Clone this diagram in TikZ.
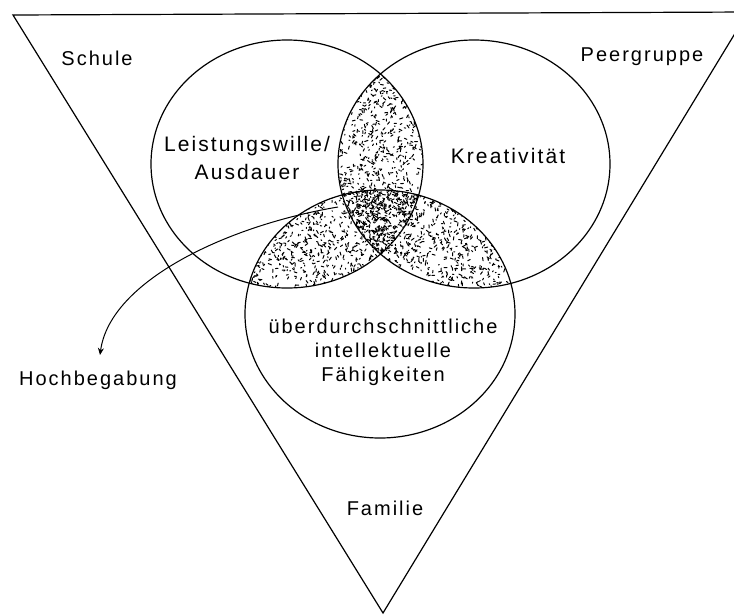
\documentclass[tikz,border=0pt]{standalone}
\usepackage{fontspec}
\usetikzlibrary{arrows.meta}
\newfontfamily\labfont{Liberation Sans}[LetterSpace=10]
\newcommand\mystipple[5]{%
  \foreach \i in {1,...,#5}{%
    \pgfmathsetmacro\px{#1+#3*rnd}%
    \pgfmathsetmacro\py{#2+#4*rnd}%
    \pgfmathsetmacro\pa{360*rnd}%
    \pgfmathsetmacro\pl{0.8+2.6*rnd}%
    \draw[speck] (\px,\py) -- ++(\pa:\pl);
  }}
\begin{document}
\begin{tikzpicture}[x=1pt,y=-1pt,
  outline/.style={line width=1.2pt},
  speck/.style={line width=1pt, line cap=round},
  lab/.style={font=\labfont\fontsize{20}{24}\selectfont, inner sep=0pt, align=center},
  inlab/.style={font=\labfont\fontsize{21}{28}\selectfont, inner sep=0pt, align=center},
  circ/.style={x radius=136pt, y radius=124pt},
  bcirc/.style={x radius=135pt, y radius=124pt}]

\path[fill=white,use as bounding box] (0,0) rectangle (734,614);

\coordinate (cL) at (287,164);
\coordinate (cR) at (474,164);
\coordinate (cB) at (380,314);
\coordinate (tl) at (13,15);
\coordinate (tr) at (748,12);
\coordinate (apex) at (383,613);

\pgfmathsetseed{7}
% left & right
\begin{scope}
  \clip (cL) ellipse [circ];
  \clip (cR) ellipse [circ];
  \mystipple{340}{70}{82}{188}{800}
\end{scope}
% left & bottom
\begin{scope}
  \clip (cL) ellipse [circ];
  \clip (cB) ellipse [bcirc];
  \mystipple{245}{186}{140}{106}{800}
\end{scope}
% right & bottom
\begin{scope}
  \clip (cR) ellipse [circ];
  \clip (cB) ellipse [bcirc];
  \mystipple{376}{186}{140}{106}{800}
\end{scope}
% all three: denser
\begin{scope}
  \clip (cL) ellipse [circ];
  \clip (cR) ellipse [circ];
  \clip (cB) ellipse [bcirc];
  \mystipple{340}{186}{82}{70}{250}
\end{scope}

\draw[outline, line join=miter] (tl) -- (tr) -- (apex) -- cycle;
\draw[outline] (cL) ellipse [circ];
\draw[outline] (cR) ellipse [circ];
\draw[outline] (cB) ellipse [bcirc];

\node[lab] (schule) at (97,58) {Schule};
\node[lab] (peer) at (642,57) {Peergruppe};
\node[inlab] (leist) at (247,158) {Leistungswille/\\Ausdauer};
\node[inlab] (krea) at (508,156) {Kreativität};
\node[lab] (ueber) at (383,352) {überdurchschnittliche\\intellektuelle\\Fähigkeiten};
\node[lab] (familie) at (385,508) {Familie};
\node[lab] (hoch) at (98,380) {Hochbegabung};

\coordinate (astart) at (338,207);
\coordinate (aend) at (100,355);
\draw[line width=1pt, -{Stealth[length=7pt,width=6pt]}] (astart) .. controls (230,225) and (110,280) .. (aend);
\end{tikzpicture}
\end{document}
